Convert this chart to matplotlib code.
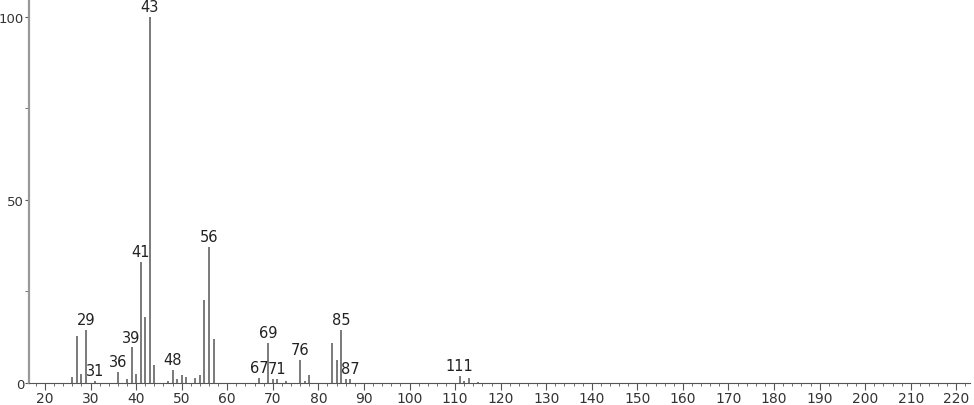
import numpy as np
import matplotlib
matplotlib.use("Agg")
import matplotlib.pyplot as plt

# m/z and relative intensity
mz = [26, 27, 28, 29, 31, 36, 38, 39, 40, 41, 42, 43, 44, 47, 48, 49, 50, 51,
      53, 54, 55, 56, 57, 67, 69, 70, 71, 73, 76, 77, 78, 83, 84, 85, 86, 87,
      111, 112, 113, 115]
intensity = [1.7, 12.9, 2.5, 14.6, 0.5, 2.9, 1.1, 9.7, 2.4, 33.0, 18.0, 100.0, 5.0,
             0.5, 3.6, 1.1, 2.2, 1.7, 1.5, 2.2, 22.7, 37.2, 12.0, 1.5, 10.9, 1.1,
             1.1, 0.5, 6.2, 0.5, 2.3, 10.9, 6.3, 14.6, 1.1, 1.1, 2.0, 0.5, 1.5, 0.3]
labelled = [29, 31, 36, 39, 41, 43, 48, 56, 67, 69, 71, 76, 85, 87, 111]

fig = plt.figure(figsize=(9.74, 4.06), dpi=100)
ax = fig.add_axes([29 / 974, 22 / 406, 941 / 974, 384 / 406])

ax.vlines(mz, 0, intensity, colors="#7a7a7a", linewidth=1.4)
for m, v in zip(mz, intensity):
    if m in labelled:
        ax.text(m, v + 0.8, str(m), ha="center", va="bottom", fontsize=10.5,
                color="#222222")

ax.set_xlim(16.5, 223)
ax.set_ylim(0, 104.9)
ax.set_xticks(np.arange(20, 221, 10))
ax.set_xticks(np.arange(18, 223, 2), minor=True)
ax.set_yticks([0, 50, 100])
ax.set_yticks([25, 75], minor=True)

for s in ["top", "right"]:
    ax.spines[s].set_visible(False)
ax.spines["left"].set_color("#999999")
ax.spines["left"].set_linewidth(1.6)
ax.spines["bottom"].set_color("#555555")
ax.spines["bottom"].set_linewidth(0.8)

ax.tick_params(axis="x", which="major", length=5, width=0.8, color="#555555",
               labelsize=10, labelcolor="#333333", pad=1)
ax.tick_params(axis="x", which="minor", length=2.5, width=0.6, color="#555555")
ax.tick_params(axis="y", which="major", length=3, width=0.8, color="#555555",
               labelsize=9.5, labelcolor="#333333", pad=0.5)
ax.tick_params(axis="y", which="minor", length=3, width=0.6, color="#555555")

fig.savefig("out.png", dpi=100)
